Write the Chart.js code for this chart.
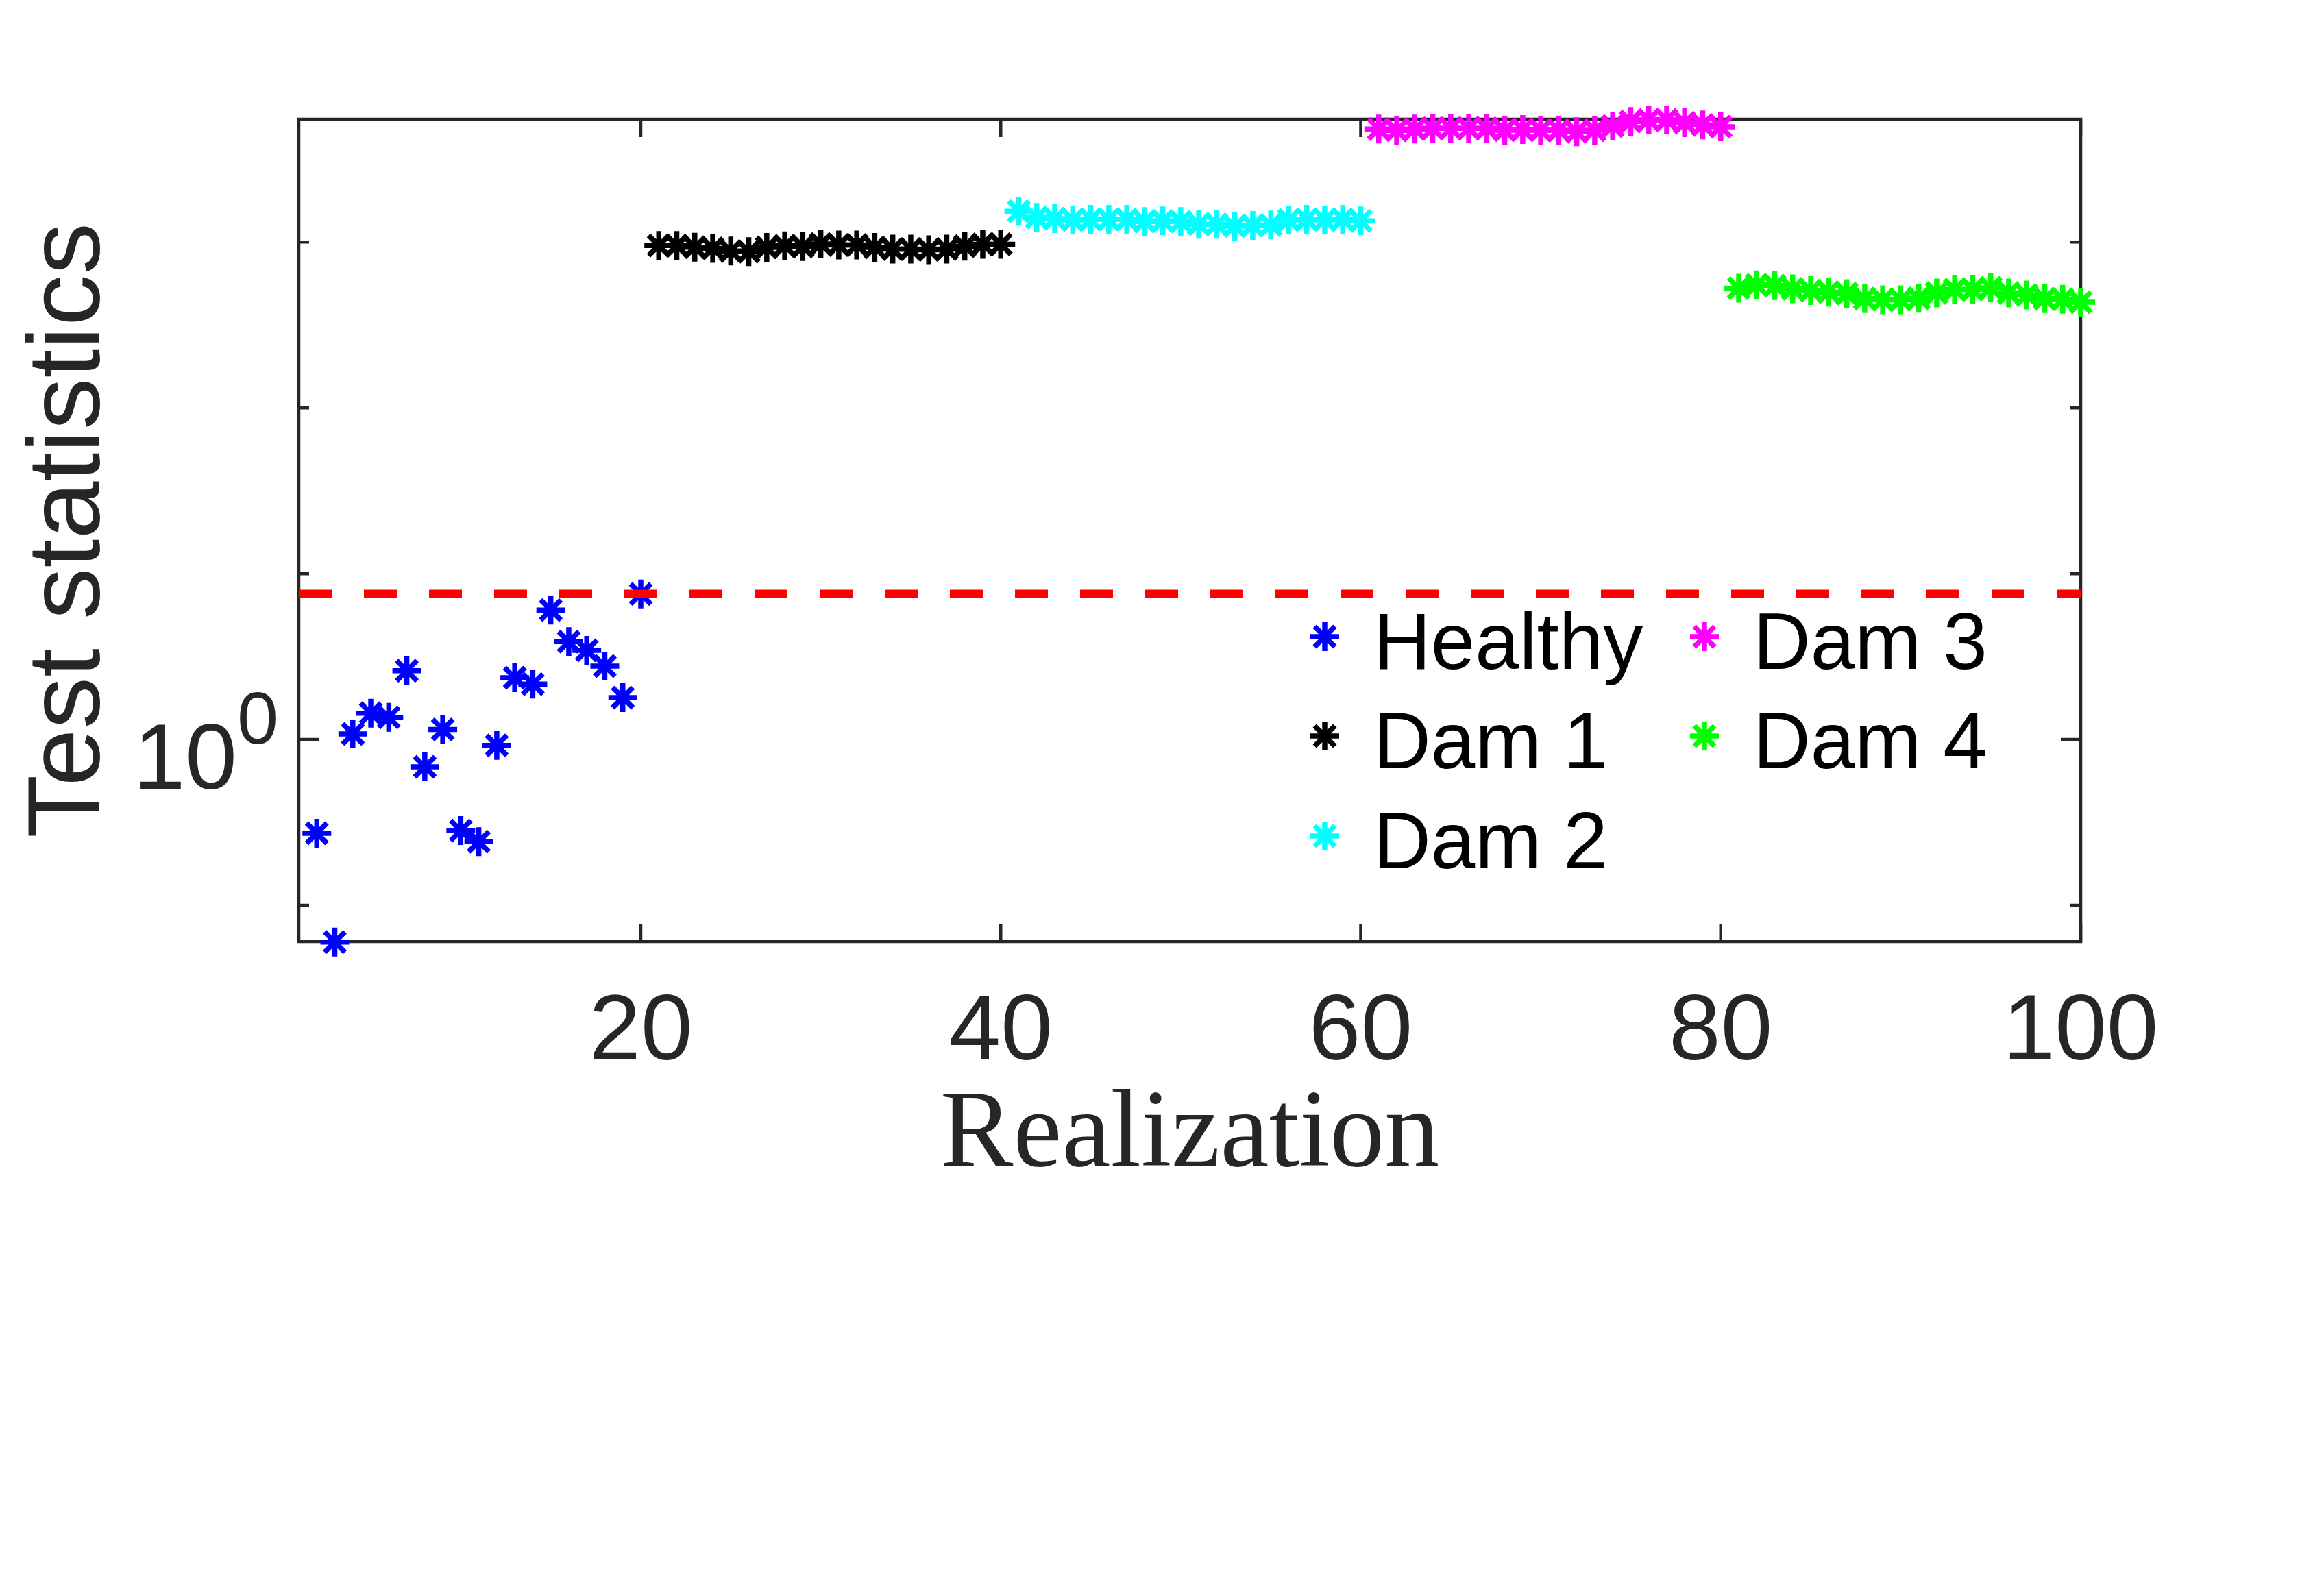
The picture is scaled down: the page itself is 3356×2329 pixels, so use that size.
<!DOCTYPE html>
<html>
<head>
<meta charset="utf-8">
<script src="https://cdn.jsdelivr.net/npm/chart.js@4.4.1/dist/chart.umd.min.js"></script>
<style>
html, body { margin: 0; padding: 0; background: #fff; overflow: hidden; }
canvas { display: block; }
</style>
</head>
<body>
<canvas id="plot" width="3356" height="2329"></canvas>
<script>
// data
var seriesNames = ["Healthy", "Dam 1", "Dam 2", "Dam 3", "Dam 4"];
var seriesColors = ["#0000ff", "#000000", "#00ffff", "#ff00ff", "#00ff00"];
var firstRealization = [2, 21, 41, 61, 81];

var healthy = [0.272, 0.060, 1.08, 1.44, 1.36, 2.60, 0.684, 1.15, 0.282, 0.242,
               0.922, 2.36, 2.16, 6.04, 3.89, 3.45, 2.77, 1.79, 7.55];
var dam1 = [953, 953, 931, 917, 885, 875, 929, 950, 940, 975,
            962, 962, 929, 908, 908, 900, 908, 944, 971, 971];
var dam2 = [1535, 1409, 1386, 1360, 1372, 1372, 1372, 1330, 1343, 1330,
            1280, 1280, 1248, 1260, 1268, 1360, 1372, 1360, 1372, 1343];
var dam3 = [4810, 4720, 4810, 4855, 4855, 4855, 4855, 4733, 4778, 4733,
            4733, 4634, 4733, 5012, 5343, 5459, 5459, 5260, 5096, 4966];
var dam4 = [528, 552, 547, 523, 510, 500, 489, 456, 449, 449,
            458, 494, 518, 518, 530, 494, 480, 456, 452, 434];
var threshold = 7.57;

var xTicks = [20, 40, 60, 80, 100];
var yTicks = [0.1, 1, 10, 100, 1000];
var yLabelled = 1;   // only 10^0 carries a label

var allSeries = [healthy, dam1, dam2, dam3, dam4];
var SANS = '"Liberation Sans", Arial, sans-serif';
var AXIS = '#262626';

function drawAsterisk(ctx, cx, cy, r) {
  ctx.beginPath();
  for (var k = 0; k < 4; k++) {
    var a = k * Math.PI / 4;
    ctx.moveTo(cx - Math.cos(a) * r, cy - Math.sin(a) * r);
    ctx.lineTo(cx + Math.cos(a) * r, cy + Math.sin(a) * r);
  }
  ctx.stroke();
}

var datasets = allSeries.map(function (vals, i) {
  return {
    label: seriesNames[i],
    data: vals.map(function (v, j) { return { x: firstRealization[i] + j, y: v }; }),
    pointStyle: 'star',
    pointRadius: 21,
    pointBorderWidth: 7.5,
    pointBorderColor: seriesColors[i],
    pointBackgroundColor: seriesColors[i],
    showLine: false,
    clip: false,
    order: 5 - i
  };
});
datasets.push({
  label: 'threshold',
  data: [{ x: 1, y: threshold }, { x: 100, y: threshold }],
  showLine: true,
  borderColor: '#ff0000',
  borderWidth: 12,
  borderDash: [48, 47],
  pointRadius: 0,
  order: 0
});

var framePlugin = {
  id: 'frame',
  beforeDatasetsDraw: function (chart) {
    var ctx = chart.ctx, a = chart.chartArea;
    var xs = chart.scales.x, ys = chart.scales.y;
    ctx.save();
    ctx.strokeStyle = AXIS;
    ctx.lineWidth = 4.5;
    ctx.strokeRect(a.left, a.top, a.right - a.left, a.bottom - a.top);
    ctx.beginPath();
    xs.ticks.forEach(function (t) {
      var px = xs.getPixelForValue(t.value);
      ctx.moveTo(px, a.bottom); ctx.lineTo(px, a.bottom - 26);
      ctx.moveTo(px, a.top); ctx.lineTo(px, a.top + 26);
    });
    ys.ticks.forEach(function (t) {
      var py = ys.getPixelForValue(t.value);
      var len = t.value === yLabelled ? 29 : 15;
      ctx.moveTo(a.left, py); ctx.lineTo(a.left + len, py);
      ctx.moveTo(a.right, py); ctx.lineTo(a.right - len, py);
    });
    ctx.stroke();

    // 10^0 label
    var py0 = ys.getPixelForValue(yLabelled);
    ctx.fillStyle = AXIS;
    ctx.textBaseline = 'alphabetic';
    ctx.font = '136px ' + SANS;
    ctx.textAlign = 'right';
    ctx.fillText('10', a.left - 90, py0 + 72);
    ctx.font = '108px ' + SANS;
    ctx.textAlign = 'left';
    ctx.fillText('0', a.left - 90, py0 + 6);
    ctx.restore();
  },
  afterDraw: function (chart) {
    var ctx = chart.ctx;
    var colX = [1933, 2487], rowY = [929, 1074, 1220];
    var slots = [[0, 0], [0, 1], [0, 2], [1, 0], [1, 1]];
    ctx.save();
    ctx.font = '116px ' + SANS;
    ctx.textAlign = 'left';
    ctx.textBaseline = 'alphabetic';
    seriesNames.forEach(function (name, i) {
      var cx = colX[slots[i][0]], cy = rowY[slots[i][1]];
      ctx.strokeStyle = seriesColors[i];
      ctx.lineWidth = 7.5;
      drawAsterisk(ctx, cx, cy, 21);
      ctx.fillStyle = '#000';
      ctx.fillText(name, cx + 71, cy + 47);
    });
    ctx.restore();
  }
};

new Chart(document.getElementById('plot').getContext('2d'), {
  type: 'scatter',
  data: { datasets: datasets },
  options: {
    responsive: false,
    devicePixelRatio: 1,
    animation: false,
    events: [],
    layout: { padding: { left: 0, top: 174, right: 320, bottom: 574 } },
    plugins: { legend: { display: false }, tooltip: { enabled: false } },
    scales: {
      x: {
        type: 'linear', min: 1, max: 100,
        afterBuildTicks: function (s) { s.ticks = xTicks.map(function (v) { return { value: v }; }); },
        grid: { display: false, drawTicks: false },
        border: { display: false },
        ticks: { font: { family: SANS, size: 136 }, color: AXIS, padding: 53, maxRotation: 0, autoSkip: false },
        title: { display: true, text: 'Realization', color: AXIS, padding: 0,
                 font: { family: '"Liberation Serif", "Times New Roman", serif', size: 160 } },
        afterFit: function (s) { s.height = 381; }
      },
      y: {
        type: 'logarithmic', min: 0.0604, max: 5510,
        afterBuildTicks: function (s) { s.ticks = yTicks.map(function (v) { return { value: v }; }); },
        grid: { display: false, drawTicks: false },
        border: { display: false },
        ticks: { display: false },
        title: { display: true, text: 'Test statistics', color: AXIS, padding: { top: 13, bottom: 0 },
                 font: { family: SANS, size: 151 } },
        afterFit: function (s) { s.width = 436; }
      }
    }
  },
  plugins: [framePlugin]
});
</script>
</body>
</html>
